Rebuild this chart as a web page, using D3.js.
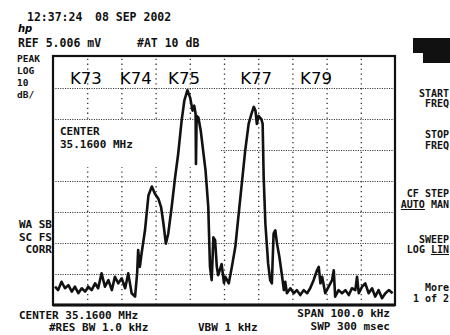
<!DOCTYPE html>
<html>
<head>
<meta charset="utf-8">
<script src="https://cdn.jsdelivr.net/npm/d3@7"></script>
<style>
  body { margin: 0; background: #fff; }
  svg { display: block; }
  .scr { font-family: "DejaVu Sans Mono", monospace; font-weight: bold; fill: #111; }
</style>
</head>
<body>
<div id="chart"></div>
<script>
// frequency offset from centre (kHz) and level relative to REF (dB)
var freqKHz = [-49.4,-48.5,-47.5,-46.5,-45.5,-44.5,-43.6,-42.6,-41.6,-40.6,-39.7,-38.7,-37.7,-36.8,-35.8,-34.8,-33.8,-32.8,-31.9,-30.9,
  -29.9,-28.9,-28.0,-27.0,-26.0,-25.4,-25.1,-24.6,-24.1,-23.1,-22.1,-21.1,-20.2,-19.2,-18.4,-17.7,-17.0,-16.3,-15.3,-14.3,
  -13.4,-12.4,-11.6,-10.7,-9.9,-9.2,-8.7,-8.3,-8.2,-8.0,-7.5,-6.8,-6.1,-5.4,-4.6,-4.1,-3.6,-3.1,-2.6,-2.1,
  -1.7,-0.7,0.0,0.4,1.4,2.3,3.3,4.3,5.3,6.2,7.2,8.0,8.7,9.2,9.6,10.1,10.9,11.3,11.6,12.1,
  12.9,13.5,14.0,14.5,15.0,15.5,16.2,17.0,17.5,17.9,18.4,19.4,20.4,21.3,22.3,23.3,24.3,25.2,26.2,27.2,
  27.7,28.2,28.7,29.6,30.6,31.6,32.1,32.5,33.5,34.5,35.5,36.5,37.4,38.4,38.9,39.4,40.4,41.3,42.3,43.3,
  44.2,45.2,46.2,47.2,48.2,49.3];
var levelDb = [-74.1,-75.2,-72.5,-74.6,-73.6,-75.7,-74.1,-76.2,-74.6,-75.7,-74.1,-75.2,-73.0,-74.6,-69.8,-74.1,-72.0,-75.2,-70.9,-73.0,
  -71.4,-74.6,-69.8,-76.2,-77.3,-69.8,-62.3,-67.7,-63.4,-55.9,-44.7,-41.8,-44.1,-45.7,-48.4,-53.8,-60.2,-57.0,-48.4,-38.8,
  -31.3,-20.6,-14.1,-10.7,-13.1,-17.3,-15.7,-18.4,-34.5,-19.0,-19.5,-23.8,-30.2,-36.6,-48.4,-67.7,-72.0,-58.2,-59.1,-67.7,
  -70.4,-66.8,-72.9,-70.9,-73.0,-67.7,-61.3,-50.5,-39.8,-30.2,-21.6,-18.4,-16.1,-17.3,-21.6,-19.0,-20.0,-21.6,-38.8,-53.8,
  -66.6,-72.0,-73.0,-57.0,-55.9,-60.2,-64.5,-70.9,-75.2,-72.5,-76.2,-74.6,-76.2,-75.2,-76.8,-75.2,-76.2,-74.6,-72.0,-68.8,
  -67.7,-73.0,-70.9,-76.2,-74.1,-72.0,-68.8,-77.3,-75.2,-76.2,-75.2,-76.8,-74.6,-75.2,-70.9,-76.2,-74.1,-73.0,-76.2,-74.6,
  -77.3,-75.2,-77.8,-76.2,-75.2,-76.2];
// channel markers
var channels = ["K73", "K74", "K75", "K77", "K79"];
var channelKHz = [-40.4, -25.8, -11.7, 9.4, 26.9];

var W = 450, H = 335;
var svg = d3.select("#chart").append("svg").attr("width", W).attr("height", H);

var x = d3.scaleLinear().domain([-50, 50]).range([53, 395]);
var y = d3.scaleLinear().domain([-80, 0]).range([305, 57]);

// grid (10 x 8 divisions)
svg.append("g")
    .attr("transform", "translate(0,305)")
    .call(d3.axisBottom(x).tickValues(d3.range(-40, 50, 10)).tickSize(-248).tickFormat(""))
    .call(function(g) {
      g.select(".domain").remove();
      g.selectAll("line").attr("stroke", "#333").attr("stroke-width", 1.3).attr("stroke-dasharray", "1.3,3.6");
    });
svg.append("g")
    .attr("transform", "translate(53,0)")
    .call(d3.axisLeft(y).tickValues(d3.range(-70, 0, 10)).tickSize(-342).tickFormat(""))
    .call(function(g) {
      g.select(".domain").remove();
      g.selectAll("line").attr("stroke", "#333").attr("stroke-width", 1.2).attr("stroke-dasharray", "1.1,1.3");
    });

// cleared annotation area
svg.append("rect").attr("x", 55).attr("y", 122).attr("width", 166).attr("height", 45).attr("fill", "#fff");
svg.append("text").attr("class", "scr").attr("x", 60).attr("y", 135).attr("font-size", 11).text("CENTER");
svg.append("text").attr("class", "scr").attr("x", 60).attr("y", 148).attr("font-size", 11).text("35.1600 MHz");

// channel labels
svg.selectAll(".ch").data(channels).enter().append("text")
    .attr("x", function(d, i) { return x(channelKHz[i]); })
    .attr("y", 84)
    .attr("text-anchor", "middle")
    .attr("font-family", "DejaVu Sans, sans-serif")
    .attr("font-size", 16.5)
    .attr("fill", "#000")
    .text(function(d) { return d; });

// trace
var pts = freqKHz.map(function(f, i) { return [f, levelDb[i]]; });
svg.append("path")
    .datum(pts)
    .attr("fill", "none")
    .attr("stroke", "#111")
    .attr("stroke-width", 2.6)
    .attr("stroke-linejoin", "round")
    .attr("d", d3.line().x(function(d) { return x(d[0]); }).y(function(d) { return y(d[1]); }));

// frame
svg.append("rect").attr("x", 53).attr("y", 56).attr("width", 342).attr("height", 249)
    .attr("fill", "none").attr("stroke", "#111").attr("stroke-width", 2.2);
svg.append("line").attr("x1", 53).attr("x2", 395).attr("y1", 305).attr("y2", 305)
    .attr("stroke", "#111").attr("stroke-width", 3);

// screen annotations
function txt(s, px, py, size, anchor) {
  return svg.append("text").attr("class", "scr").attr("x", px).attr("y", py)
    .attr("font-size", size).attr("text-anchor", anchor || "start").text(s);
}
txt("12:37:24", 27, 21, 11.5);
txt("08 SEP 2002", 95, 21, 11.5);
svg.append("text").attr("x", 18).attr("y", 32).attr("font-family", "DejaVu Sans, sans-serif")
    .attr("font-style", "italic").attr("font-weight", "bold").attr("font-size", 10).text("hp");
txt("REF 5.006 mV", 18, 47, 11.5);
txt("#AT 10 dB", 137, 47, 11.5);
txt("PEAK", 17, 62, 9.5);
txt("LOG", 17, 74, 9.5);
txt("10", 17, 85.5, 9.5);
txt("dB/", 17, 97.5, 9.5);
txt("WA SB", 52, 228, 11, "end");
txt("SC FS", 52, 241, 11, "end");
txt("CORR", 52, 253, 11, "end");
txt("CENTER 35.1600 MHz", 19, 319, 11);
txt("#RES BW 1.0 kHz", 49, 331, 11);
txt("VBW 1 kHz", 198, 331, 11);
txt("SPAN 100.0 kHz", 390, 317, 11, "end");
txt("SWP 300 msec", 390, 330, 11, "end");

// softkeys
svg.append("path").attr("d", "M413,38H450V63H423V53H413Z").attr("fill", "#111");
txt("START", 449, 97, 10, "end");
txt("FREQ", 449, 107, 10, "end");
txt("STOP", 449, 138, 10, "end");
txt("FREQ", 449, 149, 10, "end");
txt("CF STEP", 449, 197, 10, "end");
var am = txt("", 449, 208, 10, "end");
am.append("tspan").style("text-decoration", "underline").text("AUTO");
am.append("tspan").text(" MAN");
txt("SWEEP", 449, 243, 10, "end");
var ll = txt("", 449, 253, 10, "end");
ll.append("tspan").text("LOG ");
ll.append("tspan").style("text-decoration", "underline").text("LIN");
txt("More", 449, 291, 10, "end");
txt("1 of 2", 449, 302, 10, "end");
</script>
</body>
</html>
